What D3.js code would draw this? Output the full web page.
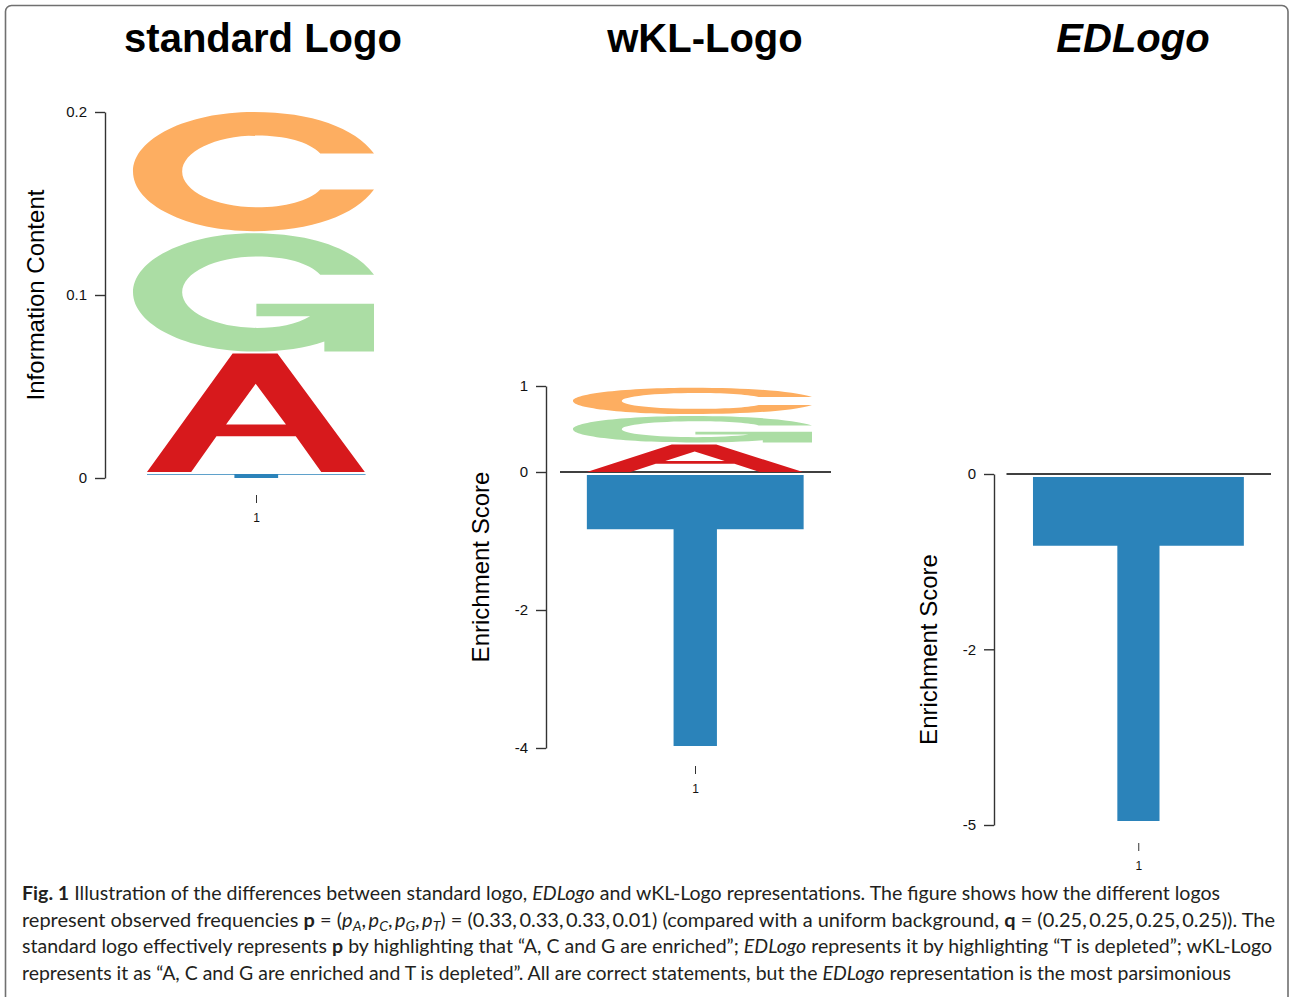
<!DOCTYPE html>
<html>
<head>
<meta charset="utf-8">
<script src="https://cdn.jsdelivr.net/npm/d3@7"></script>
<style>
  body { margin: 0; background: #fff; }
  svg { display: block; }
</style>
</head>
<body>
<div id="fig"></div>
<script>
// ---- data ----
const letters = ["A", "C", "G", "T"];
const letterColors = ["#d7191c", "#fdae61", "#abdda4", "#2b83ba"];
const stackOrder = ["T", "A", "G", "C"];
const positions = ["1"];

const standardBits = [0.0658, 0.0662, 0.0658, 0.0022];   // information content per letter
const wklScores = [0.32, 0.33, 0.33, -3.97];              // wKL enrichment scores
const edScores = [0, 0, 0, -4.93];                        // EDLogo enrichment scores

const standardTicks = [0, 0.1, 0.2];
const wklTicks = [-4, -2, 0, 1];
const edTicks = [-5, -2, 0];

const titles = ["standard Logo", "wKL-Logo", "EDLogo"];
const yLabels = ["Information Content", "Enrichment Score", "Enrichment Score"];

// glyph outlines in a unit box (x right, y down)
const glyphs = {
    A: [["M",0,1],["L",0.393,0],["L",0.599,0],["L",1,1],["L",0.8,1],["L",0.683,0.699],["L",0.319,0.699],["L",0.203,1],["Z"],
        ["M",0.363,0.6],["L",0.638,0.6],["L",0.499,0.254],["Z"]],
    C: [["M",1,0.349],["C",0.92,0.13,0.74,0,0.5,0],["C",0.224,0,0,0.224,0,0.5],["C",0,0.776,0.224,1,0.5,1],
        ["C",0.74,1,0.92,0.87,1,0.651],["L",0.777,0.651],["C",0.73,0.75,0.63,0.8,0.514,0.8],
        ["C",0.343,0.8,0.204,0.666,0.204,0.5],["C",0.204,0.334,0.343,0.198,0.514,0.198],
        ["C",0.63,0.198,0.73,0.25,0.777,0.349],["Z"]],
    G: [["M",1,0.352],["C",0.92,0.13,0.74,0,0.5,0],["C",0.224,0,0,0.224,0,0.5],["C",0,0.776,0.224,1,0.5,1],
        ["C",0.62,1,0.72,0.97,0.794,0.915],["L",0.794,1],["L",1,1],["L",1,0.597],["L",0.512,0.597],["L",0.512,0.701],
        ["L",0.735,0.701],["C",0.68,0.77,0.6,0.8,0.514,0.8],["C",0.343,0.8,0.204,0.666,0.204,0.5],
        ["C",0.204,0.334,0.343,0.198,0.514,0.198],["C",0.63,0.198,0.73,0.25,0.777,0.352],["Z"]],
    T: [["M",0,0],["L",1,0],["L",1,0.2],["L",0.6,0.2],["L",0.6,1],["L",0.4,1],["L",0.4,0.2],["L",0,0.2],["Z"]]
};
// horizontal part of the slot each glyph fills
const glyphSpan = {A: [0.058, 0.962], C: [0, 1], G: [0, 1], T: [0.058, 0.965]};

function glyphPath(letter, x0, x1, y0, y1) {
    const span = glyphSpan[letter];
    const gx0 = x0 + span[0] * (x1 - x0), gw = (span[1] - span[0]) * (x1 - x0);
    const h = y1 - y0;
    return glyphs[letter].map(c => {
        const pts = [];
        for (let i = 1; i < c.length; i += 2)
            pts.push((gx0 + c[i] * gw).toFixed(2) + "," + (y0 + c[i + 1] * h).toFixed(2));
        return c[0] + pts.join(" ");
    }).join(" ");
}

const svg = d3.select("#fig")
    .append("svg")
    .attr("width", 1290)
    .attr("height", 997);

// frame
svg.append("rect")
    .attr("x", 5.5).attr("y", 5.5)
    .attr("width", 1282.5).attr("height", 1300)
    .attr("rx", 6)
    .attr("fill", "none")
    .attr("stroke", "#707070")
    .attr("stroke-width", 1.6);

const panels = [
    {title: titles[0], italic: false, titleX: 263, values: standardBits, ticks: standardTicks,
     yDomain: [0, 0.2], yRange: [478, 112], axisX: 105, band: [133, 374],
     yLabel: yLabels[0], labelOffset: 61, zeroLine: false, xAxisY: 495},
    {title: titles[1], italic: false, titleX: 705, values: wklScores, ticks: wklTicks,
     yDomain: [-4, 0, 1], yRange: [748, 472, 386], axisX: 546, band: [573, 812],
     yLabel: yLabels[1], labelOffset: 57, zeroLine: true, xAxisY: 766},
    {title: titles[2], italic: true, titleX: 1133, values: edScores, ticks: edTicks,
     yDomain: [-5, -2, 0], yRange: [825, 649.3, 474], axisX: 994, band: [1019.5, 1252],
     yLabel: yLabels[2], labelOffset: 57, zeroLine: true, xAxisY: 843}
];

panels.forEach(p => {
    const g = svg.append("g");

    // title
    g.append("text")
        .attr("x", p.titleX)
        .attr("y", 52)
        .attr("text-anchor", "middle")
        .style("font-family", "Liberation Sans, Arial, sans-serif")
        .style("font-weight", "bold")
        .style("font-style", p.italic ? "italic" : "normal")
        .style("font-size", "40px")
        .text(p.title);

    const y = d3.scaleLinear().domain(p.yDomain).range(p.yRange);
    const x = d3.scaleBand().domain(positions).range(p.band);
    const xPoint = d3.scalePoint().domain(positions).range([p.band[0] + 2.5, p.band[1] + 2.5]).padding(0.5);

    // y axis
    const yAxis = g.append("g")
        .attr("transform", `translate(${p.axisX},0)`)
        .call(d3.axisLeft(y).tickValues(p.ticks).tickSize(10).tickPadding(8)
            .tickSizeOuter(0).tickFormat(d => String(d)));
    yAxis.select(".domain").attr("stroke", "#333").attr("stroke-width", 1.4);
    yAxis.selectAll(".tick line").attr("stroke", "#333").attr("stroke-width", 1.4);
    yAxis.selectAll(".tick text")
        .style("font-family", "Liberation Sans, Arial, sans-serif")
        .style("font-size", "15px")
        .attr("fill", "#111");

    // y label
    g.append("text")
        .attr("transform", `translate(${p.axisX - p.labelOffset},${(p.yRange[0] + p.yRange[p.yRange.length - 1]) / 2}) rotate(-90)`)
        .attr("text-anchor", "middle")
        .style("font-family", "Liberation Sans, Arial, sans-serif")
        .style("font-size", "24px")
        .text(p.yLabel);

    // x axis (position)
    const xAxis = g.append("g")
        .attr("transform", `translate(0,${p.xAxisY})`)
        .call(d3.axisBottom(xPoint).tickSize(8).tickPadding(10));
    xAxis.select(".domain").remove();
    xAxis.selectAll(".tick line").attr("stroke", "#333");
    xAxis.selectAll(".tick text")
        .style("font-family", "Liberation Sans, Arial, sans-serif")
        .style("font-size", "12px")
        .attr("fill", "#111");

    // zero line
    if (p.zeroLine) {
        g.append("line")
            .attr("x1", x("1") - 13).attr("x2", x("1") + x.bandwidth() + 19)
            .attr("y1", y(0)).attr("y2", y(0))
            .attr("stroke", "#000").attr("stroke-width", 1.3);
    }

    // stacked letters
    positions.forEach(pos => {
        let posBase = 0, negBase = 0, posCount = 0, negCount = 0;
        const boxes = [];
        stackOrder.forEach(letter => {
            const v = p.values[letters.indexOf(letter)];
            if (v > 0) {
                boxes.push({letter, top: y(posBase + v), bottom: y(posBase) - (posCount > 0 ? 2 : 0)});
                posBase += v; posCount++;
            } else if (v < 0) {
                boxes.push({letter, top: y(negBase) + (negCount > 0 ? 2 : 3), bottom: y(negBase + v)});
                negBase += v; negCount++;
            }
        });
        g.selectAll(null)
            .data(boxes)
            .join("path")
            .attr("d", d => glyphPath(d.letter, x(pos), x(pos) + x.bandwidth(), d.top, d.bottom))
            .attr("fill", d => letterColors[letters.indexOf(d.letter)])
            .attr("fill-rule", "evenodd");
    });
});

// caption
const caption = [
    [["Fig. 1", "b"], [" Illustration of the differences between standard logo, ", "n"], ["EDLogo", "i"],
     [" and wKL-Logo representations. The figure shows how the different logos", "n"]],
    [["represent observed frequencies ", "n"], ["p", "b"], [" = (", "n"], ["p", "i"], ["A", "sub"], [",\u2009", "n"],
     ["p", "i"], ["C", "sub"], [",\u2009", "n"], ["p", "i"], ["G", "sub"], [",\u2009", "n"], ["p", "i"], ["T", "sub"],
     [") = (0.33,\u20090.33,\u20090.33,\u20090.01) (compared with a uniform background, ", "n"], ["q", "b"],
     [" = (0.25,\u20090.25,\u20090.25,\u20090.25)). The", "n"]],
    [["standard logo effectively represents ", "n"], ["p", "b"], [" by highlighting that \u201CA, C and G are enriched\u201D; ", "n"],
     ["EDLogo", "i"], [" represents it by highlighting \u201CT is depleted\u201D; wKL-Logo", "n"]],
    [["represents it as \u201CA, C and G are enriched and T is depleted\u201D. All are correct statements, but the ", "n"],
     ["EDLogo", "i"], [" representation is the most parsimonious", "n"]]
];
const captionBaselines = [900, 927, 953, 980];
const captionEnds = [1220, 1275, 1272, 1231];

caption.forEach((line, i) => {
    const t = svg.append("text")
        .attr("x", 22)
        .attr("y", captionBaselines[i])
        .style("font-family", "Lato, Open Sans, sans-serif")
        .style("font-size", "18.5px")
        .attr("fill", "#231f20");
    let shifted = false;
    line.forEach(([txt, kind]) => {
        const s = t.append("tspan").text(txt);
        if (kind === "b") s.style("font-weight", "bold");
        if (kind === "i" || kind === "sub") s.style("font-style", "italic");
        if (kind === "sub") {
            s.style("font-size", "13px");
            if (!shifted) { s.attr("dy", 4); shifted = true; }
        } else if (shifted) {
            s.attr("dy", -4); shifted = false;
        }
    });
    t.attr("textLength", captionEnds[i] - 22).attr("lengthAdjust", "spacingAndGlyphs");
});
</script>
</body>
</html>
